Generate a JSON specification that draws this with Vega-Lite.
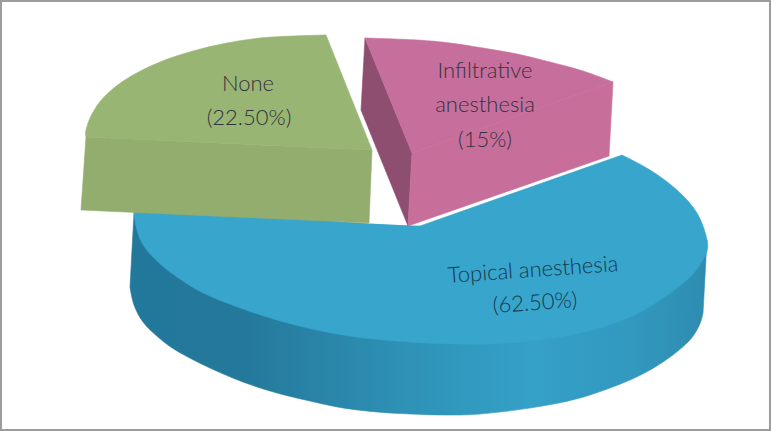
{
"$schema":"https://vega.github.io/schema/vega-lite/v6.json",
"width":771,"height":431,"padding":0,
"autosize":{"type":"fit","contains":"padding"},
"background":"white",
"view":{"stroke":"#9c9c9c","strokeWidth":4},
"datasets":{
"shapes":[
{"part":"sideBody","i":1,"x":134,"y":213},{"part":"sideBody","i":2,"x":130,"y":287},{"part":"sideBody","i":3,"x":420,"y":400},{"part":"sideBody","i":4,"x":703,"y":313},{"part":"sideBody","i":5,"x":707,"y":240},{"part":"sideBody","i":6,"x":134,"y":213},
{"part":"sideArc","i":1,"x":130,"y":287},{"part":"sideArc","i":2,"x":134,"y":305},{"part":"sideArc","i":3,"x":143,"y":322},{"part":"sideArc","i":4,"x":158,"y":337},{"part":"sideArc","i":5,"x":177,"y":351},{"part":"sideArc","i":6,"x":210,"y":368},{"part":"sideArc","i":7,"x":243,"y":382},{"part":"sideArc","i":8,"x":277,"y":393},{"part":"sideArc","i":9,"x":310,"y":401},{"part":"sideArc","i":10,"x":343,"y":408},{"part":"sideArc","i":11,"x":377,"y":412},{"part":"sideArc","i":12,"x":410,"y":414},{"part":"sideArc","i":13,"x":445,"y":415},{"part":"sideArc","i":14,"x":480,"y":414},{"part":"sideArc","i":15,"x":530,"y":408},{"part":"sideArc","i":16,"x":580,"y":398},{"part":"sideArc","i":17,"x":630,"y":380},{"part":"sideArc","i":18,"x":663,"y":362},{"part":"sideArc","i":19,"x":688,"y":342},{"part":"sideArc","i":20,"x":699,"y":326},{"part":"sideArc","i":21,"x":703,"y":313},
{"part":"blueBody","i":1,"x":622,"y":155},{"part":"blueBody","i":2,"x":420,"y":226},{"part":"blueBody","i":3,"x":408,"y":226},{"part":"blueBody","i":4,"x":369,"y":224},{"part":"blueBody","i":5,"x":134,"y":205},{"part":"blueBody","i":6,"x":134,"y":213},{"part":"blueBody","i":7,"x":150,"y":245},{"part":"blueBody","i":8,"x":480,"y":341},{"part":"blueBody","i":9,"x":695,"y":240},{"part":"blueBody","i":10,"x":622,"y":155},
{"part":"blueArcRight","i":1,"x":622,"y":155},{"part":"blueArcRight","i":2,"x":650,"y":170},{"part":"blueArcRight","i":3,"x":677,"y":190},{"part":"blueArcRight","i":4,"x":697,"y":213},{"part":"blueArcRight","i":5,"x":707,"y":240},{"part":"blueArcRight","i":6,"x":705,"y":256},{"part":"blueArcRight","i":7,"x":690,"y":277},{"part":"blueArcRight","i":8,"x":663,"y":298},{"part":"blueArcRight","i":9,"x":630,"y":317},{"part":"blueArcRight","i":10,"x":580,"y":333},{"part":"blueArcRight","i":11,"x":530,"y":341},{"part":"blueArcRight","i":12,"x":480,"y":344},{"part":"blueArcRight","i":13,"x":410,"y":342},
{"part":"blueArcLeft","i":1,"x":530,"y":341},{"part":"blueArcLeft","i":2,"x":480,"y":344},{"part":"blueArcLeft","i":3,"x":410,"y":342},{"part":"blueArcLeft","i":4,"x":343,"y":335},{"part":"blueArcLeft","i":5,"x":277,"y":320},{"part":"blueArcLeft","i":6,"x":212,"y":297},{"part":"blueArcLeft","i":7,"x":177,"y":277},{"part":"blueArcLeft","i":8,"x":155,"y":259},{"part":"blueArcLeft","i":9,"x":142,"y":243},{"part":"blueArcLeft","i":10,"x":136,"y":226},{"part":"blueArcLeft","i":11,"x":134,"y":213},
{"part":"greenFront","i":1,"x":86,"y":137},{"part":"greenFront","i":2,"x":372,"y":150},{"part":"greenFront","i":3,"x":369,"y":223},{"part":"greenFront","i":4,"x":81,"y":210},{"part":"greenFront","i":5,"x":86,"y":137},
{"part":"greenBody","i":1,"x":326,"y":35},{"part":"greenBody","i":2,"x":372,"y":150},{"part":"greenBody","i":3,"x":86,"y":137},{"part":"greenBody","i":4,"x":110,"y":100},{"part":"greenBody","i":5,"x":200,"y":56},{"part":"greenBody","i":6,"x":326,"y":35},
{"part":"greenArc","i":1,"x":326,"y":35},{"part":"greenArc","i":2,"x":293,"y":36},{"part":"greenArc","i":3,"x":260,"y":38},{"part":"greenArc","i":4,"x":227,"y":43},{"part":"greenArc","i":5,"x":193,"y":51},{"part":"greenArc","i":6,"x":160,"y":62},{"part":"greenArc","i":7,"x":128,"y":78},{"part":"greenArc","i":8,"x":105,"y":96},{"part":"greenArc","i":9,"x":92,"y":114},{"part":"greenArc","i":10,"x":86,"y":130},{"part":"greenArc","i":11,"x":86,"y":137},
{"part":"pinkSide","i":1,"x":365,"y":38},{"part":"pinkSide","i":2,"x":412,"y":153},{"part":"pinkSide","i":3,"x":408,"y":226},{"part":"pinkSide","i":4,"x":361,"y":110},{"part":"pinkSide","i":5,"x":365,"y":38},
{"part":"pinkFront","i":1,"x":412,"y":153},{"part":"pinkFront","i":2,"x":613,"y":82},{"part":"pinkFront","i":3,"x":609,"y":156},{"part":"pinkFront","i":4,"x":408,"y":226},{"part":"pinkFront","i":5,"x":412,"y":153},
{"part":"pinkBody","i":1,"x":365,"y":38},{"part":"pinkBody","i":2,"x":490,"y":56},{"part":"pinkBody","i":3,"x":613,"y":82},{"part":"pinkBody","i":4,"x":412,"y":153},{"part":"pinkBody","i":5,"x":365,"y":38},
{"part":"pinkArc","i":1,"x":365,"y":38},{"part":"pinkArc","i":2,"x":417,"y":40},{"part":"pinkArc","i":3,"x":450,"y":43},{"part":"pinkArc","i":4,"x":483,"y":48},{"part":"pinkArc","i":5,"x":517,"y":54},{"part":"pinkArc","i":6,"x":550,"y":62},{"part":"pinkArc","i":7,"x":583,"y":71},{"part":"pinkArc","i":8,"x":613,"y":82}
],
"labels":[
{"text":"None","x":248,"y":84,"kind":"flat"},
{"text":"(22.50%)","x":249,"y":118,"kind":"flat"},
{"text":"Infiltrative","x":485,"y":71,"kind":"flat"},
{"text":"anesthesia","x":485,"y":105,"kind":"flat"},
{"text":"(15%)","x":485,"y":140,"kind":"flat"},
{"text":"Topical anesthesia","x":533,"y":270,"kind":"tilt"},
{"text":"(62.50%)","x":535,"y":303,"kind":"tilt"}
]
},
"encoding":{
"x":{"field":"x","type":"quantitative","scale":{"domain":[0,771]},"axis":null},
"y":{"field":"y","type":"quantitative","scale":{"domain":[431,0]},"axis":null}
},
"layer":[
{"data":{"name":"shapes"},"transform":[{"filter":"datum.part==='sideBody'"}],
 "mark":{"type":"line","interpolate":"linear","strokeWidth":0.6,"stroke":{"gradient":"linear","x1":0,"y1":0,"x2":1,"y2":0,"stops":[{"offset":0,"color":"#22789a"},{"offset":0.2,"color":"#24799b"},{"offset":0.5,"color":"#2f93b8"},{"offset":0.7,"color":"#35a0c8"},{"offset":0.88,"color":"#3298be"},{"offset":1,"color":"#2e8cb0"}]},"fill":{"gradient":"linear","x1":0,"y1":0,"x2":1,"y2":0,"stops":[{"offset":0,"color":"#22789a"},{"offset":0.2,"color":"#24799b"},{"offset":0.5,"color":"#2f93b8"},{"offset":0.7,"color":"#35a0c8"},{"offset":0.88,"color":"#3298be"},{"offset":1,"color":"#2e8cb0"}]}},
 "encoding":{"order":{"field":"i","type":"quantitative"}}},
{"data":{"name":"shapes"},"transform":[{"filter":"datum.part==='sideArc'"}],
 "mark":{"type":"line","interpolate":"cardinal","strokeWidth":0.6,"stroke":{"gradient":"linear","x1":0,"y1":0,"x2":1,"y2":0,"stops":[{"offset":0,"color":"#22789a"},{"offset":0.2,"color":"#24799b"},{"offset":0.5,"color":"#2f93b8"},{"offset":0.7,"color":"#35a0c8"},{"offset":0.88,"color":"#3298be"},{"offset":1,"color":"#2e8cb0"}]},"fill":{"gradient":"linear","x1":0,"y1":0,"x2":1,"y2":0,"stops":[{"offset":0,"color":"#22789a"},{"offset":0.2,"color":"#24799b"},{"offset":0.5,"color":"#2f93b8"},{"offset":0.7,"color":"#35a0c8"},{"offset":0.88,"color":"#3298be"},{"offset":1,"color":"#2e8cb0"}]}},
 "encoding":{"order":{"field":"i","type":"quantitative"}}},
{"data":{"name":"shapes"},"transform":[{"filter":"datum.part==='blueBody'"}],
 "mark":{"type":"line","interpolate":"linear","strokeWidth":0.6,"stroke":"#37a5cc","fill":"#37a5cc"},
 "encoding":{"order":{"field":"i","type":"quantitative"}}},
{"data":{"name":"shapes"},"transform":[{"filter":"datum.part==='blueArcRight'"}],
 "mark":{"type":"line","interpolate":"cardinal","strokeWidth":0.6,"stroke":"#37a5cc","fill":"#37a5cc"},
 "encoding":{"order":{"field":"i","type":"quantitative"}}},
{"data":{"name":"shapes"},"transform":[{"filter":"datum.part==='blueArcLeft'"}],
 "mark":{"type":"line","interpolate":"cardinal","strokeWidth":0.6,"stroke":"#37a5cc","fill":"#37a5cc"},
 "encoding":{"order":{"field":"i","type":"quantitative"}}},
{"data":{"name":"shapes"},"transform":[{"filter":"datum.part==='greenFront'"}],
 "mark":{"type":"line","interpolate":"linear","strokeWidth":0.6,"stroke":"#93ad6f","fill":"#93ad6f"},
 "encoding":{"order":{"field":"i","type":"quantitative"}}},
{"data":{"name":"shapes"},"transform":[{"filter":"datum.part==='greenBody'"}],
 "mark":{"type":"line","interpolate":"linear","strokeWidth":0.6,"stroke":"#99b573","fill":"#99b573"},
 "encoding":{"order":{"field":"i","type":"quantitative"}}},
{"data":{"name":"shapes"},"transform":[{"filter":"datum.part==='greenArc'"}],
 "mark":{"type":"line","interpolate":"cardinal","strokeWidth":0.6,"stroke":"#99b573","fill":"#99b573"},
 "encoding":{"order":{"field":"i","type":"quantitative"}}},
{"data":{"name":"shapes"},"transform":[{"filter":"datum.part==='pinkSide'"}],
 "mark":{"type":"line","interpolate":"linear","strokeWidth":0.6,"stroke":"#8e4e70","fill":"#8e4e70"},
 "encoding":{"order":{"field":"i","type":"quantitative"}}},
{"data":{"name":"shapes"},"transform":[{"filter":"datum.part==='pinkFront'"}],
 "mark":{"type":"line","interpolate":"linear","strokeWidth":0.6,"stroke":"#c76e9b","fill":"#c76e9b"},
 "encoding":{"order":{"field":"i","type":"quantitative"}}},
{"data":{"name":"shapes"},"transform":[{"filter":"datum.part==='pinkBody'"}],
 "mark":{"type":"line","interpolate":"linear","strokeWidth":0.6,"stroke":"#c76f9c","fill":"#c76f9c"},
 "encoding":{"order":{"field":"i","type":"quantitative"}}},
{"data":{"name":"shapes"},"transform":[{"filter":"datum.part==='pinkArc'"}],
 "mark":{"type":"line","interpolate":"cardinal","strokeWidth":0.6,"stroke":"#c76f9c","fill":"#c76f9c"},
 "encoding":{"order":{"field":"i","type":"quantitative"}}},
{"data":{"name":"labels"},"transform":[{"filter":"datum.kind==='flat'"}],
 "mark":{"type":"text","font":"Lato","fontWeight":300,"fontSize":22,"color":"#33333c","align":"center","baseline":"middle"},
 "encoding":{"text":{"field":"text"}}},
{"data":{"name":"labels"},"transform":[{"filter":"datum.kind==='tilt'"}],
 "mark":{"type":"text","font":"Lato","fontWeight":300,"fontSize":22,"color":"#17384e","align":"center","baseline":"middle","angle":356},
 "encoding":{"text":{"field":"text"}}}
]
}
